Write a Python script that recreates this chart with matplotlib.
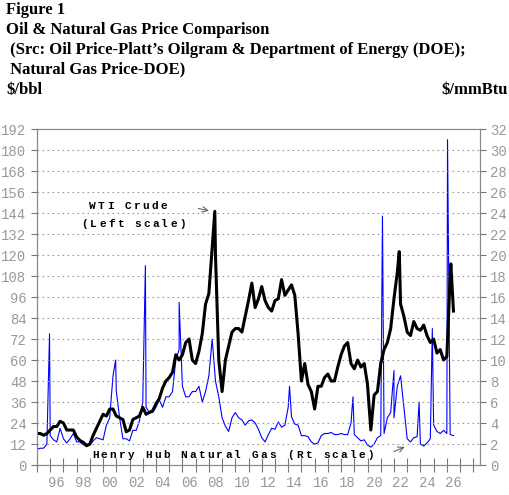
import matplotlib
matplotlib.use("Agg")
import matplotlib.pyplot as plt
from matplotlib.transforms import offset_copy
import numpy as np

oil_q = [18,18,17,18, 20,22,22,25, 24,20,20,20, 16,14,13,11, 12,17,21,25,
         29,28,32,32, 28,27,26,19, 20,26,27,28, 33,29,30,31, 35,38,44,48,
         50,53,63,60, 63,70,72,60, 58,65,75,92, 98,124,120,60, 42,60,68,76,
         78,78,76,85, 94,104,90,95, 102,94,90,88, 94,95,106,97, 100,103,97,75,
         48,58,46,42, 32,45,45,50, 52,48,48,56, 63,68,70,58, 55,60,56,58,
         46,20,40,42, 58,66,70,78, 95,110,92,85, 76,74,82,78, 77,80,74,70,
         72,64,66,60, 62,108,88]
oil_dates = [1995 + i*0.25 for i in range(len(oil_q))]
oil_peak_dates = [2008.45, 2022.4, 2026.3]
oil_peak_vals = [145, 122, 115]

gas_q = [1.5,1.6,1.6,2.0, 2.8,2.4,2.2,3.5, 2.5,2.1,2.5,3.0, 2.2,2.2,1.9,2.0,
         1.9,2.3,2.6,2.5, 2.4,3.8,4.5,8.5, 7.0,4.5,2.5,2.5, 2.3,3.3,3.3,4.2,
         6,5.5,5,5, 5.5,6.2,5.5,6.5, 6.5,7,10,11, 7.5,6.5,6.5,7, 7,7.5,6,7,
         8.5,12,8,6.5, 4.5,3.7,3.2,4.5, 5,4.5,4.3,3.8, 4.2,4.3,4,3.4,
         2.6,2.2,2.9,3.5, 3.4,4.1,3.6,3.8, 5.5,4.6,3.9,3.8, 2.8,2.8,2.7,2.2,
         2.0,2.1,2.8,3.0, 3.0,3.1,2.9,2.9, 3.0,2.9,2.9,4.0, 2.9,2.6,2.3,2.4,
         1.9,1.7,2.0,2.6, 2.8,3.0,4.5,5.0, 4.5,7.5,8.5,5.5, 2.5,2.2,2.6,2.7,
         2.0,1.8,2.1,2.5, 3.8,3.2,3.0,3.3, 3.0,2.9,2.8]
gas_dates = [1995 + i*0.25 for i in range(len(gas_q))]
gas_spike_dates = [1995.95, 2000.95, 2003.2, 2005.75, 2014.1, 2018.9, 2021.13, 2022.0, 2023.9, 2024.9, 2026.05]
gas_spike_vals = [12.5, 10, 19, 15.5, 7.5, 6.5, 23.7, 9, 6, 13, 31]

od = np.array(oil_dates + oil_peak_dates); ov = np.array(oil_q + oil_peak_vals)
o = np.argsort(od); od, ov = od[o], ov[o]
gd = np.array(gas_dates + gas_spike_dates); gv = np.array(gas_q + gas_spike_vals)
o = np.argsort(gd); gd, gv = gd[o], gv[o]

fig = plt.figure(figsize=(5.1, 4.95), dpi=100)
ax = fig.add_axes([0.0725, 0.0606, 0.8685, 0.6785])
ax2 = ax.twinx()
ax.set_zorder(ax2.get_zorder() + 1); ax.patch.set_visible(False)

ax2.plot(gd, gv, color="#0000ff", lw=0.8)
ax.plot(od, ov, color="black", lw=2.2)

ax.set_xlim(1995, 2028.5)
ax.set_ylim(0, 192); ax2.set_ylim(0, 32)
ax.set_yticks(range(0, 193, 12)); ax2.set_yticks(range(0, 33, 2))
for y in range(12, 192, 12):
    ax.axhline(y, color="#999999", lw=0.8, ls=(0, (1.5, 3)), zorder=0)
ax.set_xticks(range(1995, 2029))
ax.set_xticklabels([])
ax.set_xticks([y + 0.5 for y in range(1996, 2027, 2)], minor=True)
ax.set_xticklabels(["%02d" % (y % 100) for y in range(1996, 2027, 2)], minor=True)
ax.tick_params(axis="x", which="minor", length=0, pad=8)
ax.tick_params(axis="x", which="major", length=10, direction="inout", color="#777777")
for a in (ax, ax2):
    for lab in a.get_yticklabels() + a.get_xticklabels(minor=True):
        lab.set_fontfamily("Liberation Mono"); lab.set_color("#999999"); lab.set_fontsize(10)
    a.tick_params(axis="y", length=4, color="#777777")
    for s in a.spines.values():
        s.set_color("#888888")

def spaced(x, y, s, step=6.4, **kw):
    for i, ch in enumerate(s):
        t = offset_copy(ax.transData, fig=fig, x=i*step, y=0, units="points")
        ax.text(x, y, ch, transform=t, fontsize=8, family="Liberation Mono",
                fontweight="bold", va="center", ha="center", **kw)

spaced(1999.2, 148, "WTI Crude")
spaced(1998.6, 138, "(Left scale)")
ax.annotate("", xy=(2008.2, 145), xytext=(2007.0, 147),
            arrowprops=dict(arrowstyle="->", color="#555555", lw=0.7))
spaced(1999.4, 5.5, "Henry Hub Natural Gas (Rt scale)")
ax.annotate("", xy=(2023.0, 11), xytext=(2021.8, 7),
            arrowprops=dict(arrowstyle="->", color="#555555", lw=0.7))

ser = dict(family="Liberation Serif", fontweight="bold", fontsize=12)
fig.text(0.012, 0.995, "Figure 1", va="top", **ser)
fig.text(0.012, 0.955, "Oil & Natural Gas Price Comparison", va="top", **ser)
fig.text(0.012, 0.915, " (Src: Oil Price-Platt\u2019s Oilgram & Department of Energy (DOE);", va="top", **ser)
fig.text(0.012, 0.875, " Natural Gas Price-DOE)", va="top", **ser)
fig.text(0.012, 0.835, "$/bbl", va="top", **ser)
fig.text(0.995, 0.835, "$/mmBtu", va="top", ha="right", **ser)

fig.savefig("out.png", dpi=100)
